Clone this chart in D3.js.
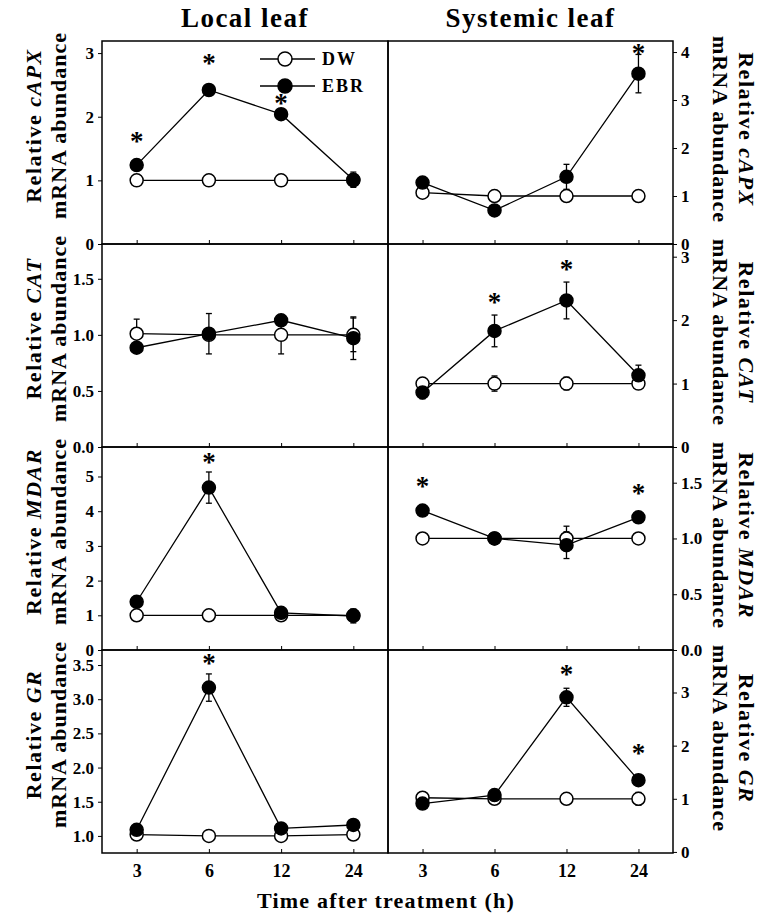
<!DOCTYPE html>
<html>
<head>
<meta charset="utf-8">
<script src="https://cdn.jsdelivr.net/npm/d3@7"></script>
<style>
body { margin: 0; background: #fff; }
text { font-family: "Liberation Serif", "Times New Roman", serif; font-weight: bold; fill: #000; }
</style>
</head>
<body>
<svg id="chart" width="769" height="919"></svg>
<script>
const times = ["3", "6", "12", "24"];
const genes = ["cAPX", "CAT", "MDAR", "GR"];
const sides = ["Local leaf", "Systemic leaf"];
const series = ["DW", "EBR"];

// local leaf, one row per gene
const localDW     = [[1.0, 1.0, 1.0, 1.0], [1.01, 1.0, 1.0, 1.0], [1.0, 1.0, 1.0, 1.0], [1.02, 1.0, 1.0, 1.02]];
const localDWErr  = [[0.05, 0.03, 0.04, 0.03], [0.13, 0.02, 0.17, 0.15], [0.03, 0.03, 0.03, 0.1], [0.08, 0.08, 0.08, 0.08]];
const localEBR    = [[1.24, 2.42, 2.04, 1.01], [0.885, 1.01, 1.13, 0.97], [1.39, 4.68, 1.07, 0.98], [1.09, 3.17, 1.11, 1.16]];
const localEBRErr = [[0.05, 0.07, 0.04, 0.12], [0.03, 0.18, 0.03, 0.19], [0.08, 0.45, 0.05, 0.2], [0.04, 0.2, 0.04, 0.03]];
const localStar   = [[1.67, 2.89, 2.27, null], [null, null, null, null], [null, 5.51, null, null], [null, 3.57, null, null]];

// systemic leaf
const sysDW     = [[1.07, 1.0, 1.0, 1.0], [1.0, 1.0, 1.0, 1.0], [1.0, 1.0, 1.0, 1.0], [1.02, 1.0, 1.0, 1.0]];
const sysDWErr  = [[0.04, 0.04, 0.1, 0.08], [0.05, 0.12, 0.1, 0.05], [0.02, 0.02, 0.11, 0.02], [0.05, 0.05, 0.05, 0.12]];
const sysEBR    = [[1.28, 0.70, 1.40, 3.55], [0.86, 1.83, 2.31, 1.13], [1.25, 1.0, 0.94, 1.19], [0.91, 1.07, 2.91, 1.35]];
const sysEBRErr = [[0.05, 0.05, 0.26, 0.4], [0.1, 0.25, 0.29, 0.16], [0.02, 0.05, 0.12, 0.02], [0.05, 0.05, 0.17, 0.05]];
const sysStar   = [[null, null, null, 4.04], [null, 2.33, 2.85, null], [1.50, null, null, 1.44], [null, null, 3.40, 1.93]];

const localDomains = [[0, 3.19], [0, 1.81], [0, 5.85], [0.75, 3.72]];
const sysDomains   = [[0, 4.23], [0, 3.2], [0, 1.82], [-0.02, 3.8]];
const localTicks = [[0, 1, 2, 3], [0, 0.5, 1, 1.5], [0, 1, 2, 3, 4, 5], [1, 1.5, 2, 2.5, 3, 3.5]];
const sysTicks   = [[0, 1, 2, 3, 4], [0, 1, 2, 3], [0, 0.5, 1, 1.5], [0, 1, 2, 3]];
const localFmt = ["d", ".1f", "d", ".1f"];
const sysFmt   = ["d", "d", ".1f", "d"];

const svg = d3.select("#chart");
const top0 = 41, rowH = 203;
const colX = [[102, 388], [388, 673]];

const sideData = [
  {dw: localDW, dwErr: localDWErr, ebr: localEBR, ebrErr: localEBRErr, star: localStar, dom: localDomains, ticks: localTicks, fmt: localFmt},
  {dw: sysDW, dwErr: sysDWErr, ebr: sysEBR, ebrErr: sysEBRErr, star: sysStar, dom: sysDomains, ticks: sysTicks, fmt: sysFmt}
];

function drawErr(g, x, y, vals, errs) {
  vals.forEach((v, i) => {
    const cx = x(times[i]), y1 = y(v + errs[i]), y2 = y(v - errs[i]);
    g.append("line").attr("x1", cx).attr("x2", cx).attr("y1", y1).attr("y2", y2)
      .attr("stroke", "#000").attr("stroke-width", 1.3);
    [y1, y2].forEach(yy => g.append("line").attr("x1", cx - 3).attr("x2", cx + 3)
      .attr("y1", yy).attr("y2", yy).attr("stroke", "#000").attr("stroke-width", 1.3));
  });
}

sideData.forEach((sd, s) => {
  const x = d3.scalePoint().domain(times).range(colX[s]).padding(0.48);
  const midX = (colX[s][0] + colX[s][1]) / 2;

  svg.append("text").attr("x", midX).attr("y", 27).attr("text-anchor", "middle")
    .attr("font-size", 27).attr("letter-spacing", 1.5).text(sides[s]);

  genes.forEach((gene, r) => {
    const y0 = top0 + r * rowH;
    const y = d3.scaleLinear().domain(sd.dom[r]).range([y0 + rowH, y0]);
    const g = svg.append("g");

    // frame
    g.append("rect").attr("x", colX[s][0]).attr("y", y0)
      .attr("width", colX[s][1] - colX[s][0]).attr("height", rowH)
      .attr("fill", "none").attr("stroke", "#000").attr("stroke-width", 1.5);

    // y axis
    const yAxis = (s === 0 ? d3.axisLeft(y) : d3.axisRight(y))
      .tickValues(sd.ticks[r]).tickFormat(d3.format(sd.fmt[r])).tickSize(4).tickPadding(4);
    const ya = g.append("g").attr("transform", `translate(${s === 0 ? colX[s][0] : colX[s][1]},0)`).call(yAxis);
    ya.select(".domain").remove();
    ya.selectAll("text").attr("font-size", 17).attr("font-family", null);

    // x axis (inward ticks)
    const xAxis = d3.axisBottom(x).tickSizeInner(-4).tickSizeOuter(0).tickPadding(11);
    if (r < 3) xAxis.tickFormat("");
    const xa = g.append("g").attr("transform", `translate(0,${y0 + rowH})`).call(xAxis);
    xa.select(".domain").remove();
    xa.selectAll("text").attr("font-size", 18).attr("font-family", null);

    const line = d3.line().x((d, i) => x(times[i])).y(d => y(d));
    g.append("path").datum(sd.dw[r]).attr("d", line).attr("fill", "none").attr("stroke", "#000").attr("stroke-width", 1.3);
    g.append("path").datum(sd.ebr[r]).attr("d", line).attr("fill", "none").attr("stroke", "#000").attr("stroke-width", 1.3);

    drawErr(g, x, y, sd.dw[r], sd.dwErr[r]);
    drawErr(g, x, y, sd.ebr[r], sd.ebrErr[r]);

    g.selectAll(".dw").data(sd.dw[r]).join("circle")
      .attr("cx", (d, i) => x(times[i])).attr("cy", d => y(d)).attr("r", 6.5)
      .attr("fill", "#fff").attr("stroke", "#000").attr("stroke-width", 1.5);
    g.selectAll(".ebr").data(sd.ebr[r]).join("circle")
      .attr("cx", (d, i) => x(times[i])).attr("cy", d => y(d)).attr("r", 6.5)
      .attr("fill", "#000").attr("stroke", "#000").attr("stroke-width", 1.5);

    sd.star[r].forEach((v, i) => {
      if (v == null) return;
      g.append("text").attr("x", x(times[i])).attr("y", y(v)).attr("dy", "0.45em")
        .attr("text-anchor", "middle").attr("font-size", 27).attr("font-weight", "normal").text("*");
    });

    // y labels
    const midY = y0 + rowH / 2;
    if (s === 0) {
      const cy = midY - 17;
      const t1 = svg.append("text").attr("transform", `translate(33,${cy}) rotate(-90)`)
        .attr("text-anchor", "middle").attr("dominant-baseline", "central")
        .attr("font-size", 22).attr("letter-spacing", 1.5);
      t1.append("tspan").text("Relative ");
      t1.append("tspan").attr("font-style", "italic").text(gene);
      svg.append("text").attr("transform", `translate(58,${cy}) rotate(-90)`)
        .attr("text-anchor", "middle").attr("dominant-baseline", "central")
        .attr("font-size", 22).attr("letter-spacing", 1).text("mRNA abundance");
    } else {
      const cy = midY - 13;
      const t1 = svg.append("text").attr("transform", `translate(747,${cy}) rotate(90)`)
        .attr("text-anchor", "middle").attr("dominant-baseline", "central")
        .attr("font-size", 22).attr("letter-spacing", 1.5);
      t1.append("tspan").text("Relative ");
      t1.append("tspan").attr("font-style", "italic").text(gene);
      svg.append("text").attr("transform", `translate(720,${cy}) rotate(90)`)
        .attr("text-anchor", "middle").attr("dominant-baseline", "central")
        .attr("font-size", 22).attr("letter-spacing", 1).text("mRNA abundance");
    }
  });
});

// legend
const leg = svg.append("g");
series.forEach((name, i) => {
  const ly = 59 + i * 27;
  leg.append("line").attr("x1", 260).attr("x2", 315).attr("y1", ly).attr("y2", ly)
    .attr("stroke", "#000").attr("stroke-width", 1.3);
  leg.append("circle").attr("cx", 285).attr("cy", ly).attr("r", 7)
    .attr("fill", i === 0 ? "#fff" : "#000").attr("stroke", "#000").attr("stroke-width", 1.5);
  leg.append("text").attr("x", 322).attr("y", ly).attr("dy", "0.35em")
    .attr("font-size", 18).attr("letter-spacing", 2).text(name);
});

svg.append("text").attr("x", 386).attr("y", 908).attr("text-anchor", "middle")
  .attr("font-size", 22).attr("letter-spacing", 1.2).text("Time after treatment (h)");
</script>
</body>
</html>
